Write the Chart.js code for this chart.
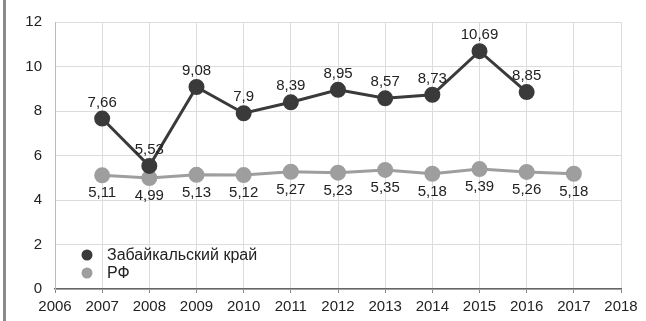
<!DOCTYPE html>
<html>
<head>
<meta charset="utf-8">
<script src="https://cdn.jsdelivr.net/npm/chart.js@4"></script>
<style>
  html, body { margin: 0; padding: 0; background: #fff; }
  #wrap { position: relative; width: 646px; height: 321px; }
</style>
</head>
<body>
<div id="wrap"><canvas id="chart"></canvas></div>
<script>
// Data
const yearsZab = [2007, 2008, 2009, 2010, 2011, 2012, 2013, 2014, 2015, 2016];
const valuesZab = [7.66, 5.53, 9.08, 7.9, 8.39, 8.95, 8.57, 8.73, 10.69, 8.85];
const yearsRf = [2007, 2008, 2009, 2010, 2011, 2012, 2013, 2014, 2015, 2016, 2017];
const valuesRf = [5.11, 4.99, 5.13, 5.12, 5.27, 5.23, 5.35, 5.18, 5.39, 5.26, 5.18];
const seriesNames = ['Забайкальский край', 'РФ'];

const FONT = 'Liberation Sans, Arial, sans-serif';

const toPoints = (xs, ys) => xs.map((x, i) => ({ x: x, y: ys[i] }));

// Value labels: first series above the points, second below
const valueLabels = {
  id: 'valueLabels',
  afterDatasetsDraw(chart) {
    const ctx = chart.ctx;
    ctx.save();
    ctx.font = '15px ' + FONT;
    ctx.fillStyle = '#222';
    ctx.textAlign = 'center';
    ctx.textBaseline = 'middle';
    chart.data.datasets.forEach((ds, di) => {
      const meta = chart.getDatasetMeta(di);
      meta.data.forEach((pt, i) => {
        const txt = String(ds.data[i].y).replace('.', ',');
        const dy = di === 0 ? -16 : 18;
        ctx.fillText(txt, pt.x, pt.y + dy);
      });
    });
    ctx.restore();
  }
};

// Legend inside the plot, lower left
const innerLegend = {
  id: 'innerLegend',
  afterDraw(chart) {
    const ctx = chart.ctx;
    const x0 = chart.chartArea.left + 32;
    const y0 = chart.chartArea.bottom - 34;
    ctx.save();
    ctx.font = '16px ' + FONT;
    ctx.textBaseline = 'middle';
    chart.data.datasets.forEach((ds, i) => {
      const y = y0 + i * 18;
      ctx.fillStyle = ds.borderColor;
      ctx.beginPath();
      ctx.arc(x0, y, 5.5, 0, Math.PI * 2);
      ctx.fill();
      ctx.fillStyle = '#222';
      ctx.fillText(ds.label, x0 + 20, y + 1);
    });
    ctx.restore();
  }
};

// Gray page rule on the left edge
const leftRule = {
  id: 'leftRule',
  beforeDraw(chart) {
    const ctx = chart.ctx;
    ctx.save();
    ctx.fillStyle = '#8a8a8a';
    ctx.fillRect(3, 0, 3, chart.height);
    ctx.restore();
  }
};

new Chart(document.getElementById('chart'), {
  type: 'line',
  data: {
    datasets: [{
      label: seriesNames[0],
      data: toPoints(yearsZab, valuesZab),
      borderColor: '#3a3a3a',
      backgroundColor: '#3a3a3a',
      borderWidth: 3,
      pointRadius: 6.5,
      pointHoverRadius: 6.5
    }, {
      label: seriesNames[1],
      data: toPoints(yearsRf, valuesRf),
      borderColor: '#9e9e9e',
      backgroundColor: '#9e9e9e',
      borderWidth: 3,
      pointRadius: 6.5,
      pointHoverRadius: 6.5
    }]
  },
  options: {
    responsive: true,
    maintainAspectRatio: false,
    animation: false,
    layout: { padding: { top: 22, right: 25, left: 0, bottom: 0 } },
    plugins: {
      legend: { display: false },
      tooltip: { enabled: false }
    },
    scales: {
      x: {
        type: 'linear',
        min: 2006,
        max: 2018,
        ticks: {
          stepSize: 1,
          color: '#222',
          font: { family: FONT, size: 15 },
          padding: 5,
          maxRotation: 0,
          callback: v => String(v)
        },
        grid: { color: '#dcdcdc', tickLength: 4, tickColor: '#888' },
        border: { color: '#666', width: 1.5 },
        afterFit: s => { s.height = 32; }
      },
      y: {
        min: 0,
        max: 12,
        ticks: {
          stepSize: 2,
          color: '#222',
          font: { family: FONT, size: 15 },
          padding: 13
        },
        grid: { color: '#dcdcdc', drawTicks: false },
        border: { color: '#bbb', width: 1 },
        afterFit: s => { s.width = 55; }
      }
    }
  },
  plugins: [leftRule, valueLabels, innerLegend]
});
</script>
</body>
</html>
